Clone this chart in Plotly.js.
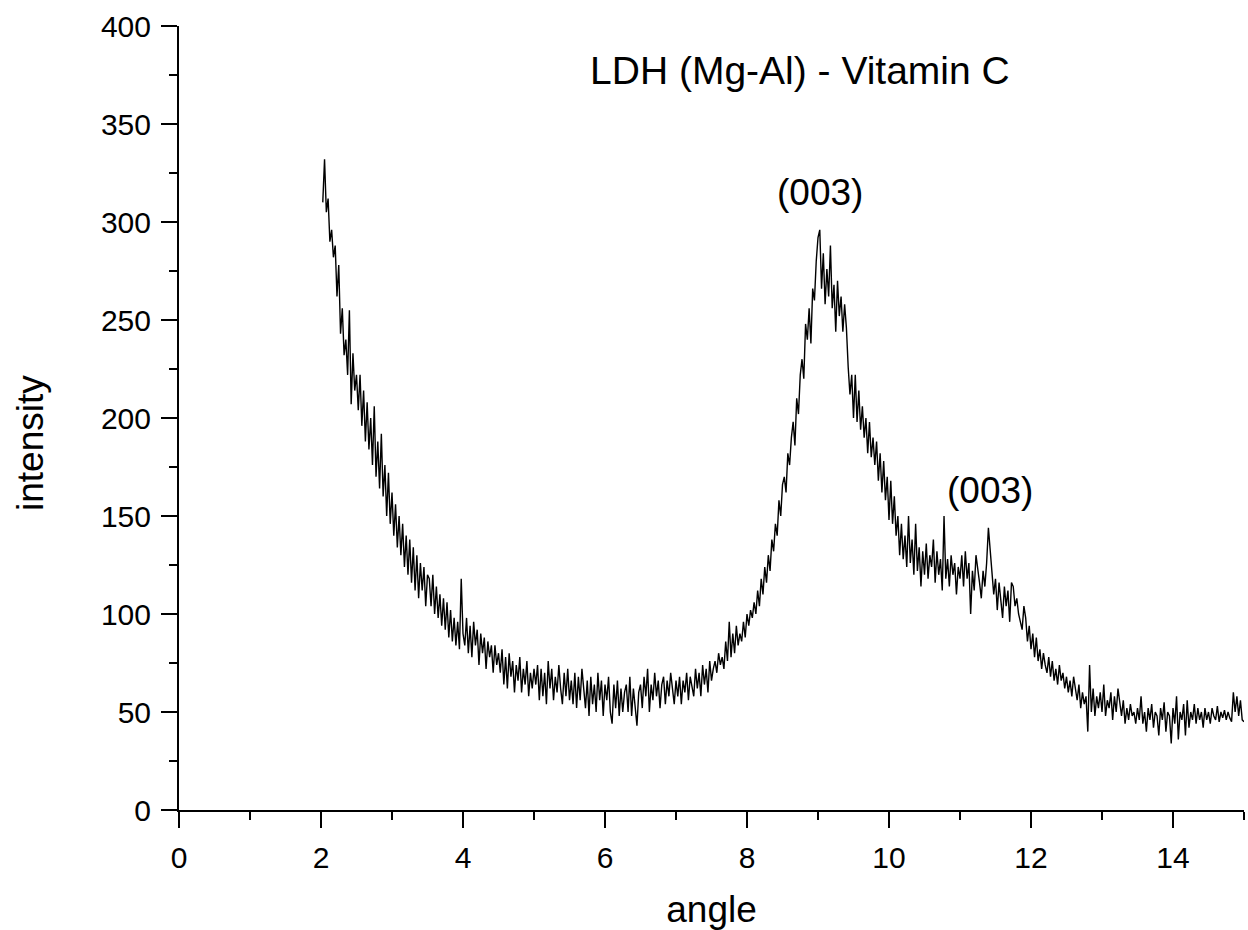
<!DOCTYPE html>
<html>
<head>
<meta charset="utf-8">
<script src="https://cdn.plot.ly/plotly-3.0.1.min.js"></script>
<style>html,body{margin:0;padding:0;background:#fff;}#chart{width:1248px;height:930px;}</style>
</head>
<body>
<div id="chart"></div>
<script>
// XRD pattern sampled every 0.025 degrees from 2.025 to 15.0
const angleStart = 2.025;
const angleStep = 0.025;
const intensity = [
  310,332,305,312,290,296,282,288,262,278,243,256,232,240,222,255,207,233,214,222,
  204,222,196,214,188,208,184,200,176,206,170,188,164,192,160,176,150,172,146,162,
  140,156,134,150,130,146,124,140,120,138,116,134,112,130,108,126,112,124,104,120,
  118,104,120,100,114,98,110,94,108,92,106,88,102,86,98,84,96,82,118,90,
  84,98,80,94,78,96,84,92,74,90,80,88,72,86,78,84,70,84,74,80,
  70,82,64,78,62,80,68,76,60,74,66,78,60,72,64,76,58,70,62,72,
  64,74,56,72,58,70,54,76,62,72,56,68,60,74,62,54,70,58,72,56,
  66,54,70,52,68,56,72,60,52,66,48,68,54,64,50,70,56,66,48,64,
  56,68,50,44,64,52,66,48,62,50,60,64,50,68,48,62,54,43,60,64,
  52,68,58,72,50,64,56,70,58,66,52,64,68,54,66,58,70,60,54,66,
  58,68,54,66,60,70,56,68,62,58,72,62,70,58,74,64,72,60,76,66,
  72,76,70,80,74,78,72,86,76,96,78,90,80,94,84,90,86,96,88,100,
  94,102,98,106,100,112,104,118,110,124,116,130,122,138,132,146,140,158,150,166,
  170,162,182,176,190,198,186,210,202,222,230,220,248,240,256,238,266,260,280,292,
  296,266,284,258,276,262,288,256,268,244,270,252,262,244,258,246,226,212,222,200,
  222,198,214,194,206,190,200,182,198,180,190,176,188,168,182,162,178,158,170,148,
  168,146,160,140,150,130,146,128,140,124,150,126,138,120,146,122,134,114,132,120,
  136,118,130,124,138,116,132,120,128,112,150,118,128,114,130,120,126,110,124,118,
  130,114,132,118,126,100,122,112,130,124,116,108,122,114,126,144,132,120,110,118,
  102,116,108,98,114,104,112,96,116,114,104,108,100,96,92,104,98,86,94,82,
  90,78,88,76,82,72,80,74,70,78,68,76,66,72,64,74,66,70,62,68,
  60,66,58,68,62,56,64,52,60,54,58,40,74,50,62,48,58,52,60,50,
  64,48,56,52,60,46,58,50,62,54,48,56,44,52,46,54,48,50,44,52,
  46,58,44,50,40,52,46,54,42,50,48,38,52,46,55,40,50,48,34,52,
  44,58,36,50,46,54,38,56,42,50,46,54,44,52,46,50,42,52,46,50,
  44,52,48,46,53,45,50,47,51,46,50,47,45,60,50,58,48,56,46,45
];
const angle = intensity.map((_, i) => +(angleStart + i * angleStep).toFixed(3));

const chartTitle = "LDH (Mg-Al) - Vitamin C";
const xTitle = "angle";
const yTitle = "intensity";
const peakLabels = ["(003)", "(003)"];
const peakX = [9.03, 11.42];
const peakY = [315, 163];

const FONT = "Liberation Sans, Arial, sans-serif";

const trace = {
  x: angle, y: intensity, type: "scatter", mode: "lines",
  line: {color: "#000", width: 1.4}, hoverinfo: "skip"
};

const annotations = peakLabels.map((t, i) => ({
  text: t, x: peakX[i], y: peakY[i], xref: "x", yref: "y",
  showarrow: false, xanchor: "center", yanchor: "middle",
  font: {family: FONT, size: 37, color: "#000"}
}));
annotations.push({
  text: yTitle, textangle: -90, xref: "paper", yref: "paper",
  x: (30 - 179) / 1065, y: 1 - (443 - 26) / 784,
  xanchor: "center", yanchor: "middle", showarrow: false,
  font: {family: FONT, size: 37, color: "#000"}
});

const layout = {
  width: 1248, height: 930,
  paper_bgcolor: "#fff", plot_bgcolor: "#fff",
  margin: {l: 179, r: 4, t: 26, b: 120, autoexpand: false},
  showlegend: false,
  font: {family: FONT, color: "#000", size: 30},
  title: {
    text: chartTitle, font: {family: FONT, size: 39, color: "#000"},
    xref: "paper", x: 0.583, xanchor: "center",
    yref: "container", y: 1 - 70/930, yanchor: "middle"
  },
  xaxis: {
    range: [0, 15], dtick: 2, tick0: 0,
    showgrid: false, zeroline: false,
    showline: true, linecolor: "#000", linewidth: 2,
    ticks: "outside", ticklen: 16, tickwidth: 2, tickcolor: "#000",
    ticklabelstandoff: 4,
    tickfont: {family: FONT, size: 30, color: "#000"},
    minor: {dtick: 1, ticks: "outside", ticklen: 8, tickwidth: 2, tickcolor: "#000", showgrid: false},
    title: {text: xTitle, font: {family: FONT, size: 37, color: "#000"}, standoff: 26},
    automargin: false
  },
  yaxis: {
    range: [0, 400], dtick: 50, tick0: 0,
    showgrid: false, zeroline: false,
    showline: true, linecolor: "#000", linewidth: 2,
    ticks: "outside", ticklen: 16, tickwidth: 2, tickcolor: "#000",
    ticklabelstandoff: 4,
    tickfont: {family: FONT, size: 30, color: "#000"},
    minor: {dtick: 25, ticks: "outside", ticklen: 8, tickwidth: 2, tickcolor: "#000", showgrid: false},
    automargin: false
  },
  annotations: annotations
};

Plotly.newPlot("chart", [trace], layout, {staticPlot: true, displayModeBar: false});
</script>
</body>
</html>
